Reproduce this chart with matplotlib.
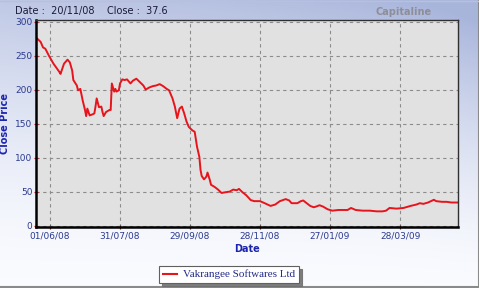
import numpy as np
import pandas as pd
import matplotlib
matplotlib.use("Agg")
import matplotlib.pyplot as plt
from matplotlib.lines import Line2D

# ---- data ----
dates = [
    "2008-05-21", "2008-05-24", "2008-05-26", "2008-05-28", "2008-05-31",
    "2008-06-04", "2008-06-09", "2008-06-10", "2008-06-13", "2008-06-16",
    "2008-06-18", "2008-06-20", "2008-06-21", "2008-06-24", "2008-06-25",
    "2008-06-27", "2008-06-29", "2008-07-01", "2008-07-02", "2008-07-03",
    "2008-07-05", "2008-07-08", "2008-07-09", "2008-07-10", "2008-07-11",
    "2008-07-13", "2008-07-15", "2008-07-16", "2008-07-17", "2008-07-19",
    "2008-07-22", "2008-07-23", "2008-07-24", "2008-07-26", "2008-07-27",
    "2008-07-28", "2008-07-30", "2008-07-31", "2008-08-02", "2008-08-04",
    "2008-08-06", "2008-08-09", "2008-08-11", "2008-08-14", "2008-08-17",
    "2008-08-20", "2008-08-22", "2008-08-25", "2008-08-28", "2008-08-31",
    "2008-09-03", "2008-09-06", "2008-09-09", "2008-09-11", "2008-09-14",
    "2008-09-16", "2008-09-18", "2008-09-20", "2008-09-22", "2008-09-24",
    "2008-09-26", "2008-09-28", "2008-10-01", "2008-10-03", "2008-10-05",
    "2008-10-07", "2008-10-08", "2008-10-09", "2008-10-11", "2008-10-13",
    "2008-10-14", "2008-10-16", "2008-10-17", "2008-10-20", "2008-10-23",
    "2008-10-26", "2008-10-29", "2008-11-02", "2008-11-05", "2008-11-08",
    "2008-11-10", "2008-11-13", "2008-11-16", "2008-11-20", "2008-11-23",
    "2008-11-28", "2008-12-02", "2008-12-07", "2008-12-11", "2008-12-15",
    "2008-12-20", "2008-12-23", "2008-12-25", "2008-12-30", "2009-01-02",
    "2009-01-04", "2009-01-07", "2009-01-10", "2009-01-13", "2009-01-15",
    "2009-01-18", "2009-01-21", "2009-01-25", "2009-01-29", "2009-02-03",
    "2009-02-07", "2009-02-11", "2009-02-14", "2009-02-18", "2009-02-24",
    "2009-03-02", "2009-03-08", "2009-03-13", "2009-03-16", "2009-03-19",
    "2009-03-25", "2009-03-31", "2009-04-06", "2009-04-11", "2009-04-14",
    "2009-04-17", "2009-04-21", "2009-04-26", "2009-04-28", "2009-05-03",
    "2009-05-07", "2009-05-11", "2009-05-16",
]
close_price = [
    275, 270, 262, 260, 250,
    238, 226, 223, 238, 244,
    240, 228, 214, 206, 199,
    201, 184, 170, 161, 172,
    162, 164, 165, 175, 187,
    174, 175, 167, 161, 167,
    170, 170, 209, 197, 201,
    197, 199, 209, 215, 214,
    215, 209, 213, 216, 211,
    206, 200, 203, 205, 206,
    208, 205, 201, 199, 187,
    175, 158, 172, 175, 165,
    153, 145, 140, 138, 116,
    101, 82, 73, 68, 72,
    78, 67, 60, 57, 53,
    48, 49, 50, 53, 52,
    54, 49, 45, 37.6, 36,
    36, 33, 29, 31, 36,
    39, 37, 33, 33, 36,
    37, 33, 29, 27, 28,
    30, 28, 24, 22, 23,
    23, 23, 26, 23, 22,
    22, 21, 21, 22, 26,
    25, 26, 29, 31, 33,
    32, 34, 38, 36, 35,
    35, 34, 34,
]
tick_labels = ["01/06/08", "31/07/08", "29/09/08", "28/11/08", "27/01/09", "28/03/09"]
y_ticks = [0, 50, 100, 150, 200, 250, 300]
series_name = "Vakrangee Softwares Ltd"
header_date = "20/11/08"
header_close = "37.6"

# ---- figure ----
W, H = 479, 288
fig = plt.figure(figsize=(W / 100, H / 100), dpi=100)

# background gradient (bluish at top, fading to white at bottom)
bg = fig.add_axes([0, 0, 1, 1])
bg.set_axis_off()
yy, xx = np.mgrid[0:1:200j, 0:1:300j]
top = np.array([0.66, 0.71, 0.86])
white = np.array([0.98, 0.985, 1.0])
t = np.clip(yy ** 1.6 * (0.72 + 0.25 * xx) + 0.15 * xx ** 6 * yy, 0, 1)
img = white[None, None, :] * (1 - t[..., None]) + top[None, None, :] * t[..., None]
bg.imshow(img, origin="lower", extent=[0, 1, 0, 1], aspect="auto")
bg.set_xlim(0, 1)
bg.set_ylim(0, 1)
bg.plot([0, 1, 1], [0.002, 0.002, 1], color="#8a8a8a", linewidth=1.5, transform=bg.transAxes)
bg.plot([0, 0.998], [0.998, 0.998], color="#b8c0dc", linewidth=1.0, transform=bg.transAxes)

ax = fig.add_axes([36 / W, 1 - 227 / H, (458 - 36) / W, (227 - 19.5) / H])
ax.set_facecolor("#e1e1e1")

x = pd.to_datetime(dates)
ax.plot(x, close_price, color="#e8141c", linewidth=1.4, solid_joinstyle="round")

tick_dates = pd.to_datetime(tick_labels, format="%d/%m/%y")
ax.set_xticks(tick_dates)
ax.set_xticklabels(tick_labels)
ax.set_xlim(pd.Timestamp("2008-05-20"), pd.Timestamp("2009-05-16 16:00"))
ax.set_yticks(y_ticks)
ax.set_ylim(-2, 303)

ax.grid(True, color="#8c8c8c", linestyle=(0, (3, 3)), linewidth=0.8)
ax.tick_params(axis="y", colors="#c01818", labelcolor="#2b3a8f", labelsize=6.5,
               length=3, width=0.9, direction="inout", pad=1)
ax.tick_params(axis="x", colors="#7a1010", labelcolor="#2b3a8f", labelsize=6.5,
               length=3, width=0.9, direction="inout", pad=2)

for side in ["left", "bottom"]:
    ax.spines[side].set_color("black")
    ax.spines[side].set_linewidth(1.8)
for side in ["top", "right"]:
    ax.spines[side].set_color("#303030")
    ax.spines[side].set_linewidth(1.0)

ax.set_ylabel("Close Price", color="#1c24b0", fontsize=7, fontweight="bold", labelpad=4)
ax.set_xlabel("Date", color="#1c24b0", fontsize=7, fontweight="bold", labelpad=2)

# header
fig.text(15 / W, 1 - 11 / H, f"Date :  {header_date}    Close :  {header_close}",
         fontsize=7, color="#1a1a3a", va="center", ha="left")
fig.text(432 / W, 1 - 12 / H, "Capitaline", fontsize=7, color="#8e8e98",
         fontweight="bold", va="center", ha="right")

# legend
handle = Line2D([], [], color="#e8141c", linewidth=1.5)
leg = fig.legend([handle], [series_name], loc="center",
                 bbox_to_anchor=(229 / W, 1 - 274.5 / H),
                 prop={"family": "Liberation Serif", "size": 8},
                 frameon=True, fancybox=False, shadow={"color": "#707070", "alpha": 0.9},
                 handlelength=1.3, handletextpad=0.5, borderpad=0.35)
leg.get_frame().set_edgecolor("#606060")
leg.get_frame().set_linewidth(0.8)
leg.get_frame().set_facecolor("white")
for txt in leg.get_texts():
    txt.set_color("#222a88")

fig.savefig("out.png", dpi=100)
